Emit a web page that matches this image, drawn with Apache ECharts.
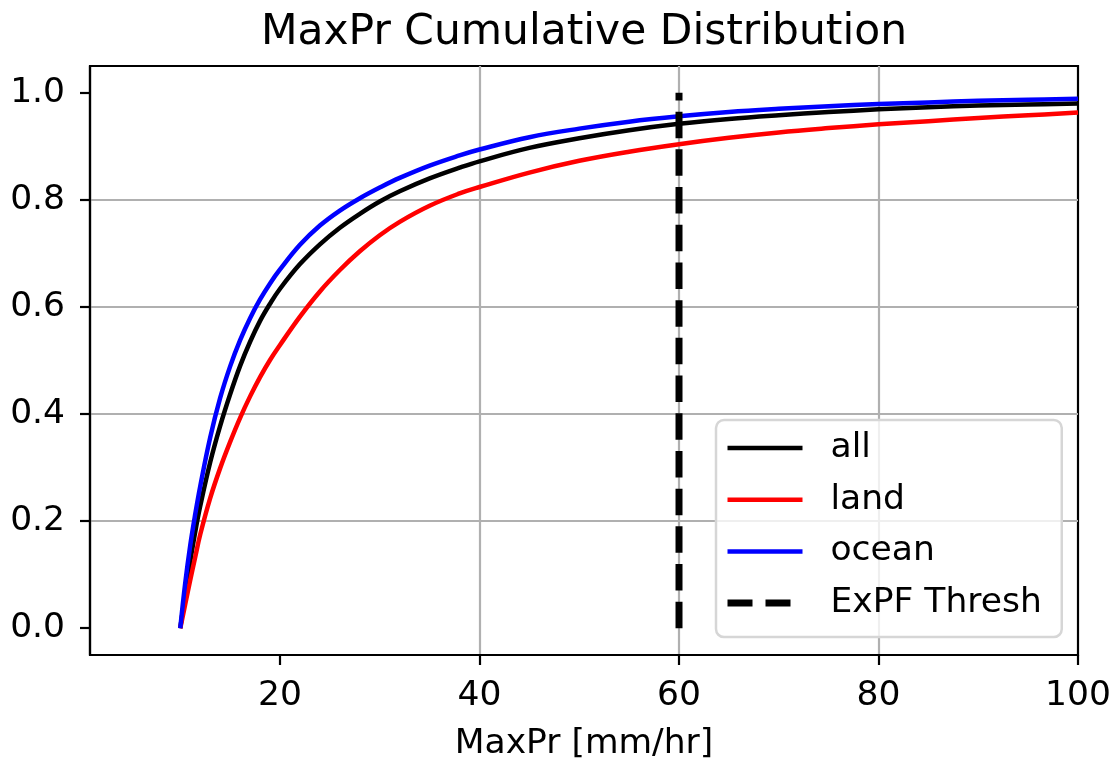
<!DOCTYPE html>
<html>
<head>
<meta charset="utf-8">
<script src="https://cdn.jsdelivr.net/npm/echarts@6/dist/echarts.min.js"></script>
<style>
  html, body { margin: 0; padding: 0; background: #ffffff; }
  #chart { width: 1113px; height: 758px; }
</style>
</head>
<body>
<div id="chart"></div>
<script>
// MaxPr thresholds (mm/hr) at which each cumulative fraction is given
const maxPr = [10, 10.5, 11, 11.5, 12, 13, 14, 15, 16, 17, 18, 19, 20, 22, 24, 26, 28, 30, 32, 35, 38, 40,
               45, 50, 55, 60, 65, 70, 75, 80, 85, 90, 95, 100];

// cumulative fraction of features, all / land / ocean
const cdfAll = [0, 0.065, 0.125, 0.18, 0.228, 0.31, 0.378, 0.437, 0.49, 0.535, 0.574, 0.606, 0.634, 0.680, 0.717, 0.748,
                0.774, 0.797, 0.816, 0.840, 0.860, 0.872, 0.897, 0.915, 0.930, 0.942, 0.951, 0.958, 0.964, 0.969,
                0.973, 0.976, 0.978, 0.980];
const cdfLand = [0, 0.045, 0.09, 0.133, 0.175, 0.243, 0.299, 0.348, 0.393, 0.433, 0.469, 0.501, 0.529, 0.582, 0.629, 0.669,
                 0.704, 0.734, 0.759, 0.789, 0.812, 0.824, 0.851, 0.873, 0.890, 0.904, 0.916, 0.926, 0.934, 0.941,
                 0.947, 0.953, 0.958, 0.963];
const cdfOcean = [0, 0.085, 0.155, 0.213, 0.265, 0.356, 0.43, 0.489, 0.538, 0.579, 0.614, 0.644, 0.670, 0.716, 0.752, 0.780,
                  0.803, 0.823, 0.841, 0.864, 0.883, 0.894, 0.917, 0.933, 0.946, 0.956, 0.964, 0.970, 0.975, 0.979,
                  0.982, 0.985, 0.987, 0.989];

// extreme-feature threshold drawn as a vertical marker from 0 to 1
const threshX = [60, 60];
const threshY = [0, 1];

const xTicks = [20, 40, 60, 80, 100];
const yTicks = [0, 0.2, 0.4, 0.6, 0.8, 1.0];

const FONT = 'DejaVu Sans';
const zip = (xs, ys) => xs.map((x, i) => [x, ys[i]]);

const chart = echarts.init(document.getElementById('chart'), null, { renderer: 'canvas' });

const curve = (name, color, ys) => ({
  name: name,
  type: 'line',
  data: zip(maxPr, ys),
  symbol: 'none',
  showSymbol: false,
  smooth: 0.4,
  lineStyle: { color: color, width: 4.5, cap: 'butt', join: 'round' },
  itemStyle: { color: color },
  clip: true
});

chart.setOption({
  animation: false,
  backgroundColor: '#ffffff',
  title: {
    text: 'MaxPr Cumulative Distribution',
    left: 584,
    top: 12,
    padding: 0,
    textAlign: 'center',
    textStyle: { fontFamily: FONT, fontSize: 42.4, fontWeight: 'normal', color: '#000000' }
  },
  grid: {
    left: 90, right: 35, top: 66, bottom: 103,
    outerBoundsMode: 'none',
    containLabel: false,
    show: true,
    borderColor: '#000000',
    borderWidth: 2.2,
    backgroundColor: 'transparent'
  },
  legend: {
    orient: 'vertical',
    left: 716,
    top: 420,
    padding: [10, 20, 16, 8],
    itemWidth: 75,
    itemHeight: 20,
    itemGap: 15.7,
    selectedMode: false,
    backgroundColor: 'rgba(255,255,255,0.8)',
    borderColor: '#d6d6d6',
    borderWidth: 2.5,
    borderRadius: 8,
    itemStyle: { opacity: 0 },
    textStyle: { fontFamily: FONT, fontSize: 34.5, color: '#000000', lineHeight: 36, padding: [0, 0, 0, 23] },
    data: [
      { name: 'all', lineStyle: { width: 4.5 } },
      { name: 'land', lineStyle: { width: 4.5 } },
      { name: 'ocean', lineStyle: { width: 4.5 } },
      { name: 'ExPF Thresh', lineStyle: { width: 7, type: [25, 13] } }
    ]
  },
  xAxis: {
    type: 'value',
    min: 0.95,
    max: 100,
    name: 'MaxPr [mm/hr]',
    nameLocation: 'middle',
    nameGap: 72,
    nameTextStyle: { fontFamily: FONT, fontSize: 34.5, color: '#000000' },
    axisLine: { show: true, onZero: false, lineStyle: { color: '#000000', width: 2.2 } },
    axisTick: { show: true, inside: false, length: 10, customValues: xTicks,
                lineStyle: { color: '#000000', width: 2.2 } },
    axisLabel: { customValues: xTicks, margin: 24, fontFamily: FONT, fontSize: 34.5, color: '#000000' },
    splitLine: { show: true, showMinLine: false, showMaxLine: false,
                 lineStyle: { color: '#b0b0b0', width: 2.2 } }
  },
  yAxis: {
    type: 'value',
    min: -0.05,
    max: 1.05,
    axisLine: { show: true, onZero: false, lineStyle: { color: '#000000', width: 2.2 } },
    axisTick: { show: true, inside: false, length: 10, customValues: yTicks,
                lineStyle: { color: '#000000', width: 2.2 } },
    axisLabel: { customValues: yTicks, margin: 25, fontFamily: FONT, fontSize: 34.5, color: '#000000',
                 formatter: v => Number(v).toFixed(1) },
    splitLine: { show: true, showMinLine: false, showMaxLine: false,
                 lineStyle: { color: '#b0b0b0', width: 2.2 } }
  },
  series: [
    curve('all', '#000000', cdfAll),
    curve('land', '#ff0000', cdfLand),
    curve('ocean', '#0000ff', cdfOcean),
    {
      name: 'ExPF Thresh',
      type: 'line',
      data: zip(threshX, threshY),
      symbol: 'none',
      showSymbol: false,
      lineStyle: { color: '#000000', width: 7, type: [26.5, 11.2], cap: 'butt' },
      itemStyle: { color: '#000000' },
      clip: true
    }
  ]
});
</script>
</body>
</html>
